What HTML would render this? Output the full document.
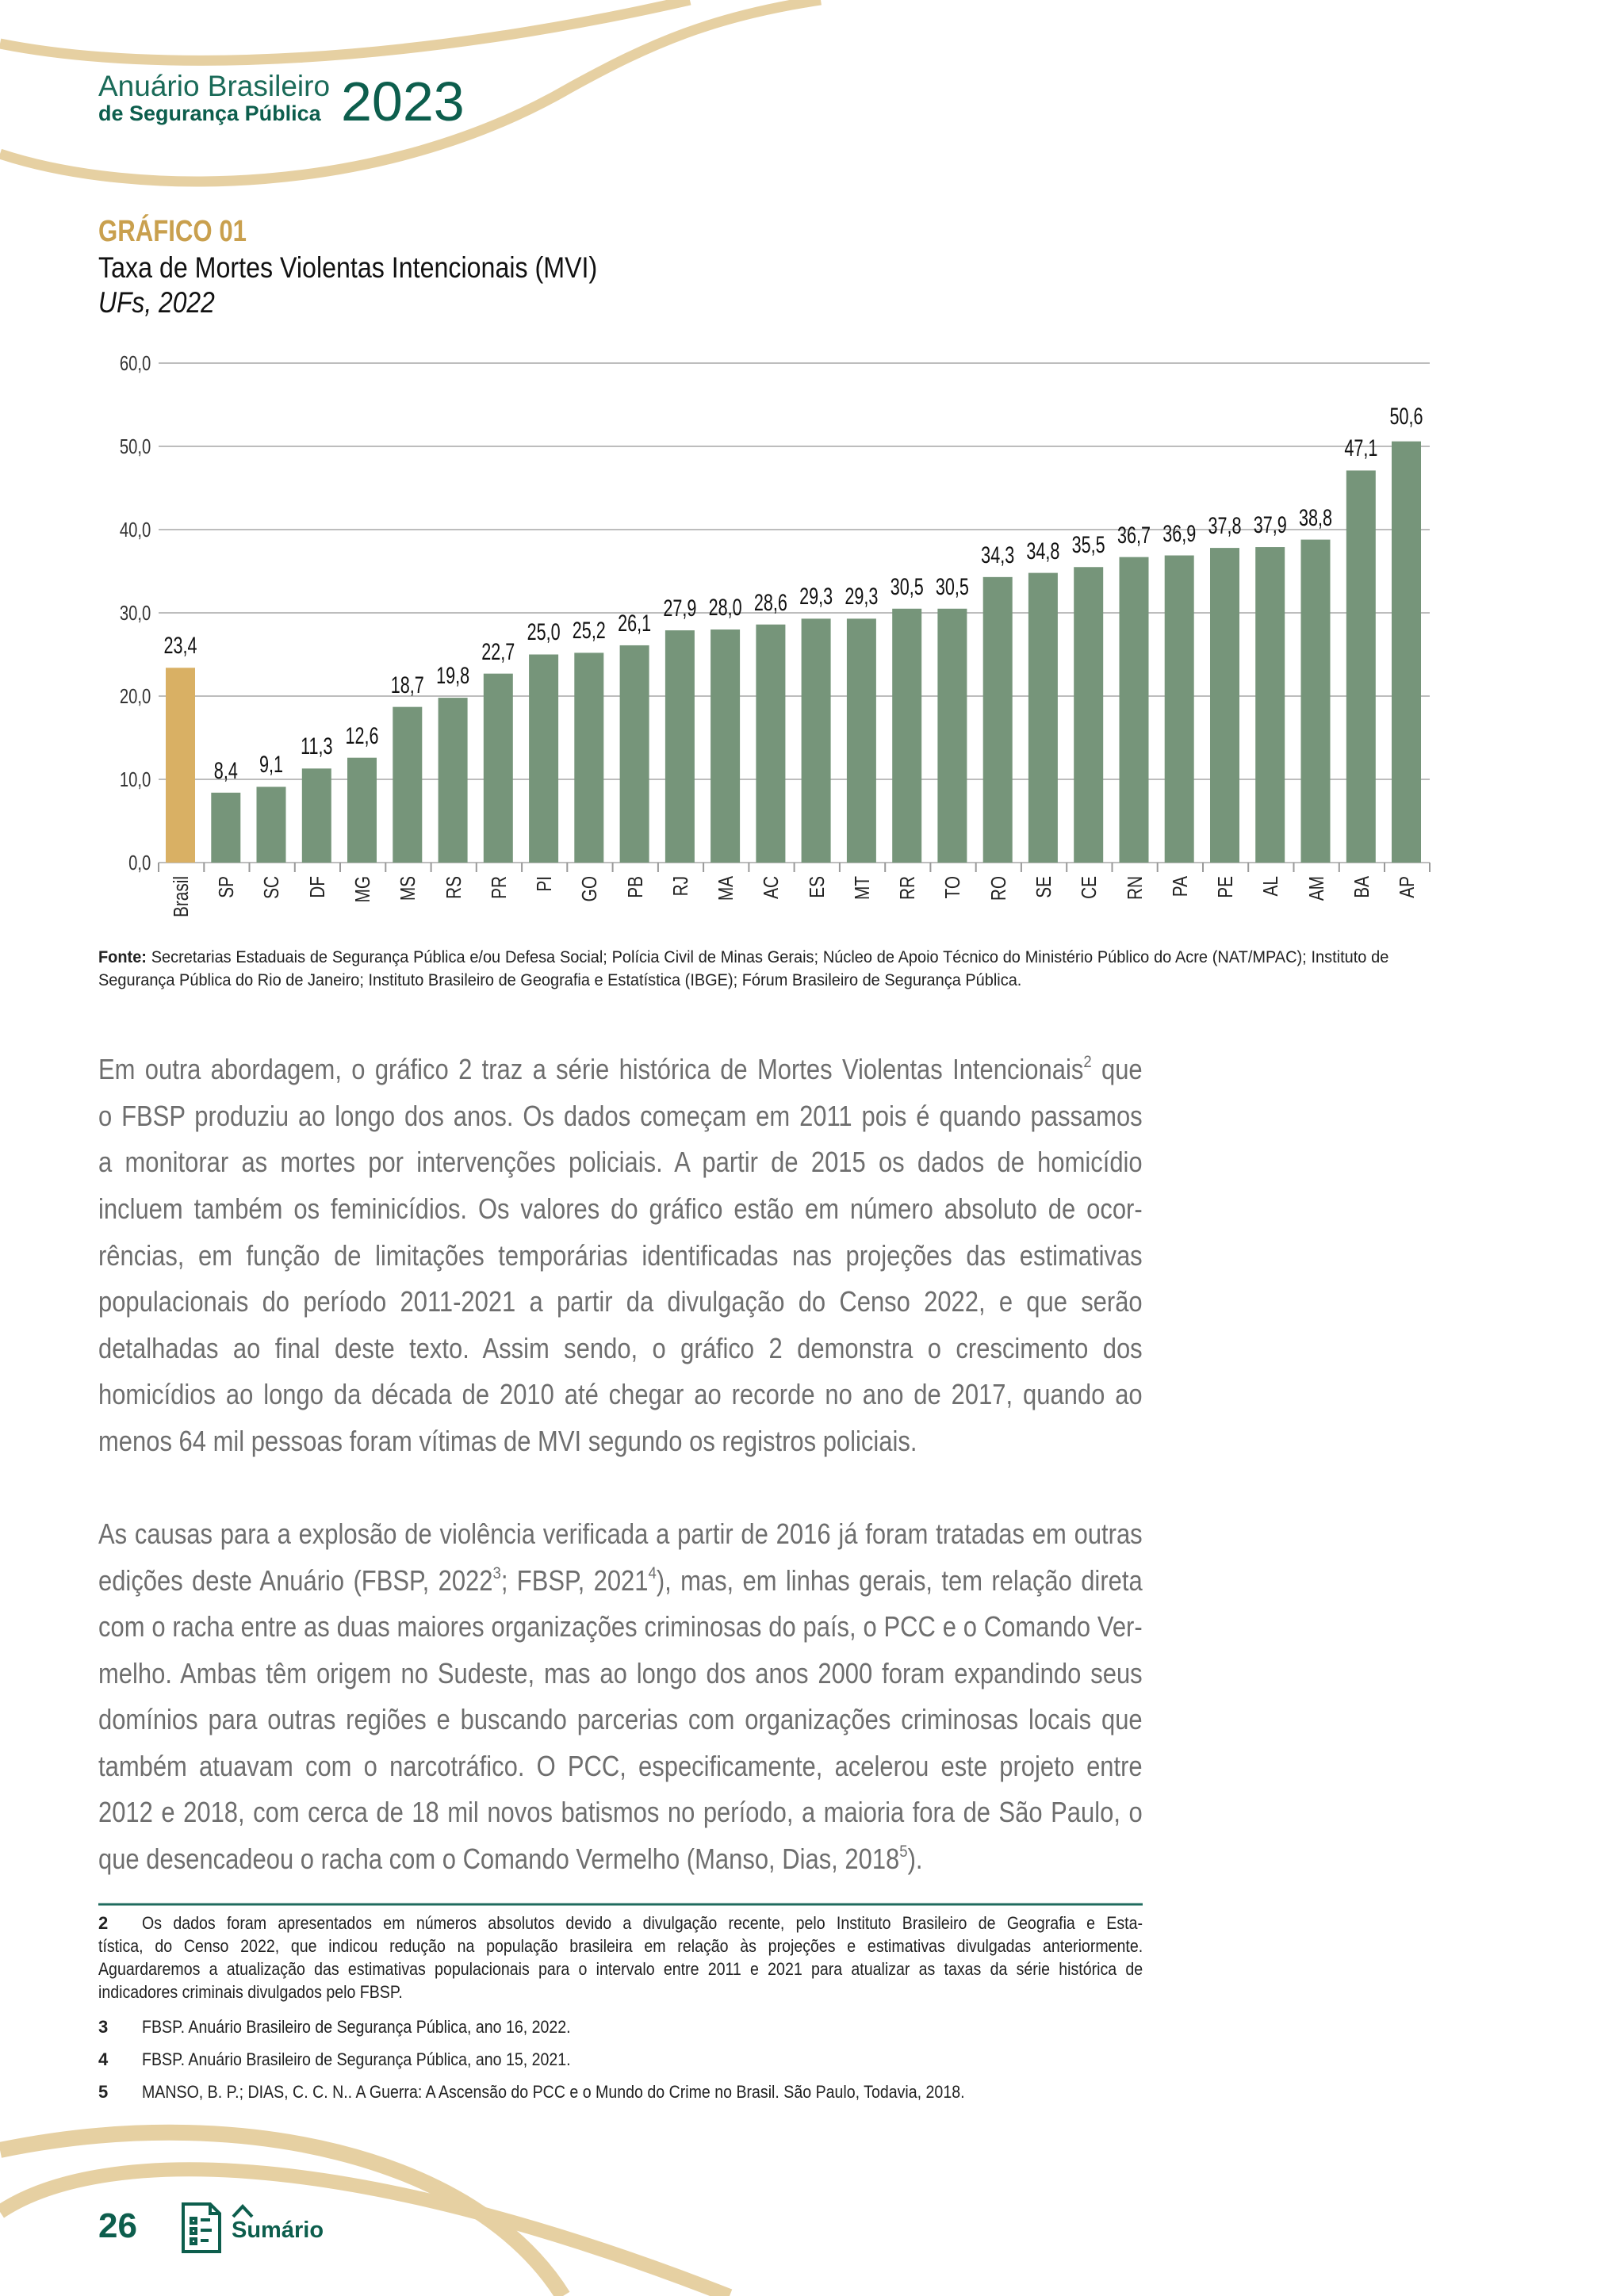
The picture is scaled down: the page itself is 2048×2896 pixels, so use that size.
<!DOCTYPE html>
<html><head><meta charset="utf-8">
<style>
html,body{margin:0;padding:0;background:#fff;}
body{width:2048px;height:2896px;position:relative;overflow:hidden;font-family:"Liberation Sans",sans-serif;}
.abs{position:absolute;}
.ln{position:absolute;left:124px;width:1531px;transform:scaleX(0.86);transform-origin:0 0;text-align:justify;text-align-last:justify;white-space:nowrap;}
.ln.last{text-align-last:left;}
.fn.ln{width:1480px;transform:scaleX(0.89);}
.body{font-size:36px;color:#6e6e6e;line-height:58px;}
.fn{font-size:22px;color:#222;line-height:29px;}
.sq{position:absolute;transform-origin:0 0;white-space:nowrap;}
sup{font-size:0.6em;line-height:0;vertical-align:0.7em;}
</style></head><body>
<svg class="abs" style="left:0;top:0" width="2048" height="2896">
<path d="M0,55 C200,95 520,80 870,0" stroke="#E6D0A2" stroke-width="13" fill="none"/>
<path d="M0,194 C170,250 480,250 720,110 C820,55 900,20 1035,0" stroke="#E6D0A2" stroke-width="13" fill="none"/>
<path d="M0,2712 C300,2650 600,2720 710,2896" stroke="#E6D0A2" stroke-width="20" fill="none"/>
<path d="M0,2790 C120,2710 420,2700 920,2896" stroke="#E6D0A2" stroke-width="18" fill="none"/>
<g stroke="#bdbdbd" stroke-width="2">
<line x1="200" y1="458" x2="1803" y2="458"/><line x1="200" y1="563" x2="1803" y2="563"/>
<line x1="200" y1="668" x2="1803" y2="668"/><line x1="200" y1="773" x2="1803" y2="773"/>
<line x1="200" y1="878" x2="1803" y2="878"/><line x1="200" y1="983" x2="1803" y2="983"/>
<line x1="200" y1="1088" x2="1803" y2="1088"/>
</g>
<g font-family="Liberation Sans, sans-serif" font-size="26" fill="#333" text-anchor="end" transform="scale(0.78,1)">
<text x="244" y="467">60,0</text><text x="244" y="572">50,0</text><text x="244" y="677">40,0</text>
<text x="244" y="782">30,0</text><text x="244" y="887">20,0</text><text x="244" y="992">10,0</text><text x="244" y="1097">0,0</text>
</g>
<g fill="#76957A">
<rect x="209" y="842.3" width="37" height="245.7" fill="#D9B064"/>
<rect x="266.3" y="999.8" width="37" height="88.2"/>
<rect x="323.5" y="992.45" width="37" height="95.55"/>
<rect x="380.8" y="969.35" width="37" height="118.65"/>
<rect x="438" y="955.7" width="37" height="132.3"/>
<rect x="495.3" y="891.65" width="37" height="196.35"/>
<rect x="552.6" y="880.1" width="37" height="207.9"/>
<rect x="609.8" y="849.65" width="37" height="238.35"/>
<rect x="667.1" y="825.5" width="37" height="262.5"/>
<rect x="724.3" y="823.4" width="37" height="264.6"/>
<rect x="781.6" y="813.95" width="37" height="274.05"/>
<rect x="838.9" y="795.05" width="37" height="292.95"/>
<rect x="896.1" y="794" width="37" height="294"/>
<rect x="953.4" y="787.7" width="37" height="300.3"/>
<rect x="1010.6" y="780.35" width="37" height="307.65"/>
<rect x="1067.9" y="780.35" width="37" height="307.65"/>
<rect x="1125.2" y="767.75" width="37" height="320.25"/>
<rect x="1182.4" y="767.75" width="37" height="320.25"/>
<rect x="1239.7" y="727.85" width="37" height="360.15"/>
<rect x="1296.9" y="722.6" width="37" height="365.4"/>
<rect x="1354.2" y="715.25" width="37" height="372.75"/>
<rect x="1411.5" y="702.65" width="37" height="385.35"/>
<rect x="1468.7" y="700.55" width="37" height="387.45"/>
<rect x="1526" y="691.1" width="37" height="396.9"/>
<rect x="1583.2" y="690.05" width="37" height="397.95"/>
<rect x="1640.5" y="680.6" width="37" height="407.4"/>
<rect x="1697.8" y="593.45" width="37" height="494.55"/>
<rect x="1755" y="556.7" width="37" height="531.3"/>
</g>
<g stroke="#999" stroke-width="2">
<line x1="200" y1="1088" x2="200" y2="1100"/><line x1="257.3" y1="1088" x2="257.3" y2="1100"/><line x1="314.5" y1="1088" x2="314.5" y2="1100"/><line x1="371.8" y1="1088" x2="371.8" y2="1100"/><line x1="429" y1="1088" x2="429" y2="1100"/><line x1="486.3" y1="1088" x2="486.3" y2="1100"/><line x1="543.6" y1="1088" x2="543.6" y2="1100"/><line x1="600.8" y1="1088" x2="600.8" y2="1100"/><line x1="658.1" y1="1088" x2="658.1" y2="1100"/><line x1="715.3" y1="1088" x2="715.3" y2="1100"/><line x1="772.6" y1="1088" x2="772.6" y2="1100"/><line x1="829.9" y1="1088" x2="829.9" y2="1100"/><line x1="887.1" y1="1088" x2="887.1" y2="1100"/><line x1="944.4" y1="1088" x2="944.4" y2="1100"/><line x1="1001.6" y1="1088" x2="1001.6" y2="1100"/><line x1="1058.9" y1="1088" x2="1058.9" y2="1100"/><line x1="1116.2" y1="1088" x2="1116.2" y2="1100"/><line x1="1173.4" y1="1088" x2="1173.4" y2="1100"/><line x1="1230.7" y1="1088" x2="1230.7" y2="1100"/><line x1="1287.9" y1="1088" x2="1287.9" y2="1100"/><line x1="1345.2" y1="1088" x2="1345.2" y2="1100"/><line x1="1402.5" y1="1088" x2="1402.5" y2="1100"/><line x1="1459.7" y1="1088" x2="1459.7" y2="1100"/><line x1="1517" y1="1088" x2="1517" y2="1100"/><line x1="1574.2" y1="1088" x2="1574.2" y2="1100"/><line x1="1631.5" y1="1088" x2="1631.5" y2="1100"/><line x1="1688.8" y1="1088" x2="1688.8" y2="1100"/><line x1="1746" y1="1088" x2="1746" y2="1100"/><line x1="1803" y1="1088" x2="1803" y2="1100"/>
</g>
<g font-family="Liberation Sans, sans-serif" font-size="30" fill="#111" text-anchor="middle" transform="scale(0.72,1)">
<text x="316" y="824">23,4</text><text x="395.6" y="982">8,4</text><text x="475" y="974">9,1</text><text x="554.6" y="951">11,3</text><text x="634" y="938">12,6</text><text x="713.6" y="874">18,7</text><text x="793.2" y="862">19,8</text><text x="872.6" y="832">22,7</text><text x="952.2" y="807">25,0</text><text x="1031.7" y="805">25,2</text><text x="1111.3" y="796">26,1</text><text x="1190.8" y="777">27,9</text><text x="1270.3" y="776">28,0</text><text x="1349.9" y="770">28,6</text><text x="1429.3" y="762">29,3</text><text x="1508.9" y="762">29,3</text><text x="1588.5" y="750">30,5</text><text x="1667.9" y="750">30,5</text><text x="1747.5" y="710">34,3</text><text x="1827" y="705">34,8</text><text x="1906.5" y="697">35,5</text><text x="1986.1" y="685">36,7</text><text x="2065.6" y="683">36,9</text><text x="2145.1" y="673">37,8</text><text x="2224.6" y="672">37,9</text><text x="2304.2" y="663">38,8</text><text x="2383.8" y="575">47,1</text><text x="2463.2" y="535">50,6</text>
</g>
<g font-family="Liberation Sans, sans-serif" font-size="26" fill="#222" text-anchor="end">
<text transform="translate(237,1105) rotate(-90) scale(0.8,1)">Brasil</text>
<text transform="translate(294,1105) rotate(-90) scale(0.8,1)">SP</text>
<text transform="translate(351,1105) rotate(-90) scale(0.8,1)">SC</text>
<text transform="translate(409,1105) rotate(-90) scale(0.8,1)">DF</text>
<text transform="translate(466,1105) rotate(-90) scale(0.8,1)">MG</text>
<text transform="translate(523,1105) rotate(-90) scale(0.8,1)">MS</text>
<text transform="translate(581,1105) rotate(-90) scale(0.8,1)">RS</text>
<text transform="translate(638,1105) rotate(-90) scale(0.8,1)">PR</text>
<text transform="translate(695,1105) rotate(-90) scale(0.8,1)">PI</text>
<text transform="translate(752,1105) rotate(-90) scale(0.8,1)">GO</text>
<text transform="translate(810,1105) rotate(-90) scale(0.8,1)">PB</text>
<text transform="translate(867,1105) rotate(-90) scale(0.8,1)">RJ</text>
<text transform="translate(924,1105) rotate(-90) scale(0.8,1)">MA</text>
<text transform="translate(981,1105) rotate(-90) scale(0.8,1)">AC</text>
<text transform="translate(1039,1105) rotate(-90) scale(0.8,1)">ES</text>
<text transform="translate(1096,1105) rotate(-90) scale(0.8,1)">MT</text>
<text transform="translate(1153,1105) rotate(-90) scale(0.8,1)">RR</text>
<text transform="translate(1210,1105) rotate(-90) scale(0.8,1)">TO</text>
<text transform="translate(1268,1105) rotate(-90) scale(0.8,1)">RO</text>
<text transform="translate(1325,1105) rotate(-90) scale(0.8,1)">SE</text>
<text transform="translate(1382,1105) rotate(-90) scale(0.8,1)">CE</text>
<text transform="translate(1440,1105) rotate(-90) scale(0.8,1)">RN</text>
<text transform="translate(1497,1105) rotate(-90) scale(0.8,1)">PA</text>
<text transform="translate(1554,1105) rotate(-90) scale(0.8,1)">PE</text>
<text transform="translate(1611,1105) rotate(-90) scale(0.8,1)">AL</text>
<text transform="translate(1669,1105) rotate(-90) scale(0.8,1)">AM</text>
<text transform="translate(1726,1105) rotate(-90) scale(0.8,1)">BA</text>
<text transform="translate(1783,1105) rotate(-90) scale(0.8,1)">AP</text>
</g>
<line x1="124" y1="2402" x2="1441" y2="2402" stroke="#1f6b5e" stroke-width="3"/>
<g transform="translate(229,2778)" stroke="#0d5e4d" stroke-width="4" fill="none">
<path d="M2,2 H36 L48,14 V62 H2 Z"/><path d="M36,2 V14 H48"/>
<rect x="12" y="20" width="6" height="6"/><rect x="12" y="33" width="6" height="6"/><rect x="12" y="46" width="6" height="6"/>
<line x1="24" y1="22" x2="36" y2="22"/><line x1="24" y1="35" x2="38" y2="35"/><line x1="24" y1="48" x2="34" y2="48"/>
</g>
<path d="M294,2796 L306,2783 L318,2796" stroke="#0d5e4d" stroke-width="4" fill="none"/>
</svg>

<div class="abs" style="left:124px;top:90px;font-size:37px;color:#1a6a58;line-height:38px;">Anuário Brasileiro</div>
<div class="abs" style="left:124px;top:128px;font-size:27px;font-weight:bold;color:#0d5e4d;line-height:30px;">de Segurança Pública</div>
<div class="abs" style="left:430px;top:93px;font-size:70px;color:#0d5e4d;line-height:70px;">2023</div>

<div class="sq" style="left:124px;top:270px;font-size:38px;font-weight:bold;color:#C9A04E;line-height:44px;transform:scaleX(0.82);">GRÁFICO 01</div>
<div class="sq" style="left:124px;top:316px;font-size:37px;color:#111;line-height:44px;transform:scaleX(0.87);">Taxa de Mortes Violentas Intencionais (MVI)</div>
<div class="sq" style="left:124px;top:360px;font-size:37px;font-style:italic;color:#111;line-height:44px;transform:scaleX(0.86);">UFs, 2022</div>

<div class="ln fn" style="top:1193px;width:1713px;transform:scaleX(0.95);font-size:21px;"><b>Fonte:</b> Secretarias Estaduais de Segurança Pública e/ou Defesa Social; Polícia Civil de Minas Gerais; Núcleo de Apoio Técnico do Ministério Público do Acre (NAT/MPAC); Instituto de</div>
<div class="ln fn last" style="top:1222px;transform:scaleX(0.95);font-size:21px;">Segurança Pública do Rio de Janeiro; Instituto Brasileiro de Geografia e Estatística (IBGE); Fórum Brasileiro de Segurança Pública.</div>

<div class="ln body" style="top:1320px">Em outra abordagem, o gráfico 2 traz a série histórica de Mortes Violentas Intencionais<sup>2</sup> que</div>
<div class="ln body" style="top:1379px">o FBSP produziu ao longo dos anos. Os dados começam em 2011 pois é quando passamos</div>
<div class="ln body" style="top:1437px">a monitorar as mortes por intervenções policiais. A partir de 2015 os dados de homicídio</div>
<div class="ln body" style="top:1496px">incluem também os feminicídios. Os valores do gráfico estão em número absoluto de ocor-</div>
<div class="ln body" style="top:1555px">rências, em função de limitações temporárias identificadas nas projeções das estimativas</div>
<div class="ln body" style="top:1613px">populacionais do período 2011-2021 a partir da divulgação do Censo 2022, e que serão</div>
<div class="ln body" style="top:1672px">detalhadas ao final deste texto. Assim sendo, o gráfico 2 demonstra o crescimento dos</div>
<div class="ln body" style="top:1730px">homicídios ao longo da década de 2010 até chegar ao recorde no ano de 2017, quando ao</div>
<div class="ln body last" style="top:1789px">menos 64 mil pessoas foram vítimas de MVI segundo os registros policiais.</div>

<div class="ln body" style="top:1906px">As causas para a explosão de violência verificada a partir de 2016 já foram tratadas em outras</div>
<div class="ln body" style="top:1965px">edições deste Anuário (FBSP, 2022<sup>3</sup>; FBSP, 2021<sup>4</sup>), mas, em linhas gerais, tem relação direta</div>
<div class="ln body" style="top:2023px">com o racha entre as duas maiores organizações criminosas do país, o PCC e o Comando Ver-</div>
<div class="ln body" style="top:2082px">melho. Ambas têm origem no Sudeste, mas ao longo dos anos 2000 foram expandindo seus</div>
<div class="ln body" style="top:2140px">domínios para outras regiões e buscando parcerias com organizações criminosas locais que</div>
<div class="ln body" style="top:2199px">também atuavam com o narcotráfico. O PCC, especificamente, acelerou este projeto entre</div>
<div class="ln body" style="top:2257px">2012 e 2018, com cerca de 18 mil novos batismos no período, a maioria fora de São Paulo, o</div>
<div class="ln body last" style="top:2316px">que desencadeou o racha com o Comando Vermelho (Manso, Dias, 2018<sup>5</sup>).</div>

<div class="abs fn" style="left:124px;top:2411px"><b>2</b></div>
<div class="ln fn" style="left:179px;width:1418px;top:2411px">Os dados foram apresentados em números absolutos devido a divulgação recente, pelo Instituto Brasileiro de Geografia e Esta-</div>
<div class="ln fn" style="top:2440px">tística, do Censo 2022, que indicou redução na população brasileira em relação às projeções e estimativas divulgadas anteriormente.</div>
<div class="ln fn" style="top:2469px">Aguardaremos a atualização das estimativas populacionais para o intervalo entre 2011 e 2021 para atualizar as taxas da série histórica de</div>
<div class="ln fn last" style="top:2498px">indicadores criminais divulgados pelo FBSP.</div>
<div class="abs fn" style="left:124px;top:2542px"><b>3</b></div><div class="sq fn" style="left:179px;top:2542px;transform:scaleX(0.89)">FBSP. Anuário Brasileiro de Segurança Pública, ano 16, 2022.</div>
<div class="abs fn" style="left:124px;top:2583px"><b>4</b></div><div class="sq fn" style="left:179px;top:2583px;transform:scaleX(0.89)">FBSP. Anuário Brasileiro de Segurança Pública, ano 15, 2021.</div>
<div class="abs fn" style="left:124px;top:2624px"><b>5</b></div><div class="sq fn" style="left:179px;top:2624px;transform:scaleX(0.89)">MANSO, B. P.; DIAS, C. C. N.. A Guerra: A Ascensão do PCC e o Mundo do Crime no Brasil. São Paulo, Todavia, 2018.</div>

<div class="abs" style="left:124px;top:2784px;font-size:44px;font-weight:bold;color:#0d5e4d;line-height:48px;">26</div>
<div class="abs" style="left:292px;top:2797px;font-size:29px;font-weight:bold;color:#0d5e4d;line-height:32px;">Sumário</div>
</body></html>
